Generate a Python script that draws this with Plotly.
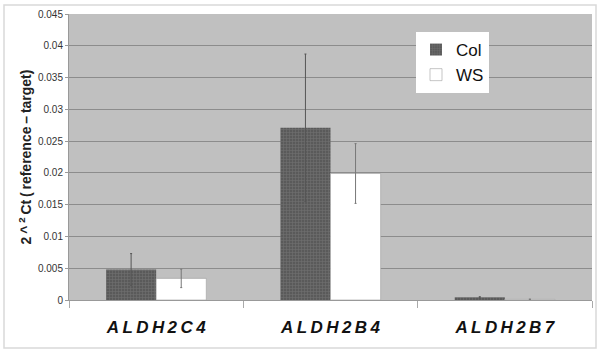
import plotly.graph_objects as go

categories = ["ALDH2C4", "ALDH2B4", "ALDH2B7"]
col_values = [0.0048, 0.0271, 0.00042]
col_errors = [0.0025, 0.0116, 0.0001]
ws_values = [0.0034, 0.0199, 0.0001]
ws_errors = [0.00145, 0.0047, 0.00005]
y_ticks = [0, 0.005, 0.01, 0.015, 0.02, 0.025, 0.03, 0.035, 0.04, 0.045]
y_tick_labels = ["0", "0.005", "0.01", "0.015", "0.02", "0.025", "0.03", "0.035", "0.04", "0.045"]

W, H = 600, 354
L, R, T, B = 69, 8, 14, 54

def spaced(s):
    return "<b><i>" + "\u2009".join(s) + "</i></b>"

fig = go.Figure()
fig.add_trace(go.Bar(
    name="Col", x=categories, y=col_values,
    marker=dict(color="#5a5a5a", line=dict(width=0),
                pattern=dict(shape="+", fgcolor="#868686", size=3, solidity=0.35)),
    error_y=dict(type="data", array=col_errors, visible=True, color="#555555", thickness=1, width=1),
))
fig.add_trace(go.Bar(
    name="WS", x=categories, y=ws_values,
    marker=dict(color="#ffffff", line=dict(width=0.6, color="#a0a0a0")),
    error_y=dict(type="data", array=ws_errors, visible=True, color="#777777", thickness=1, width=1),
))

pw = W - L - R
ph = H - T - B
def px_x(p):
    return (p - L) / pw
def px_y(p):
    return (H - B - p) / ph

fig.add_shape(type="rect", xref="paper", yref="paper",
              x0=px_x(4), x1=px_x(596), y0=px_y(348), y1=px_y(5),
              line=dict(color="#d9d9d9", width=1.5), layer="below")

fig.update_layout(
    width=W, height=H,
    margin=dict(l=L, r=R, t=T, b=B, autoexpand=False),
    paper_bgcolor="white", plot_bgcolor="#c0c0c0",
    barmode="group", bargap=0.425, bargroupgap=0,
    font=dict(family="Liberation Sans, Arial, sans-serif", color="#222"),
    showlegend=True,
    legend=dict(x=px_x(416), y=px_y(32), xanchor="left", yanchor="top",
                bgcolor="white", font=dict(size=17, color="#111"),
                borderwidth=0, tracegroupgap=0, itemwidth=30),
    xaxis=dict(
        automargin=False,
        tickmode="array", tickvals=categories, ticktext=[spaced(c) for c in categories],
        tickfont=dict(size=17, color="#111"),
        ticks="outside", tickson="boundaries", ticklen=7, tickcolor="#aaaaaa",
        showline=True, linecolor="#999999", linewidth=1,
        ticklabelstandoff=12, showgrid=False,
    ),
    yaxis=dict(
        automargin=False,
        range=[0, 0.045], tickmode="array", tickvals=y_ticks, ticktext=y_tick_labels,
        tickfont=dict(size=10, color="#333"),
        ticks="outside", ticklen=3, tickcolor="#999999",
        showline=True, linecolor="#999999", linewidth=1,
        showgrid=True, gridcolor="#8c8c8c", gridwidth=1, zeroline=False,
        title=dict(text="<b>2\u2009^\u2009<sup>2</sup>\u2009Ct\u2009(\u2009reference\u2009–\u2009target)</b>",
                   font=dict(size=14, color="#222"), standoff=3),
    ),
)

fig.write_html("out.html", config={"displayModeBar": False},
               post_script="document.body.style.margin='0';document.body.style.overflow='hidden';")
